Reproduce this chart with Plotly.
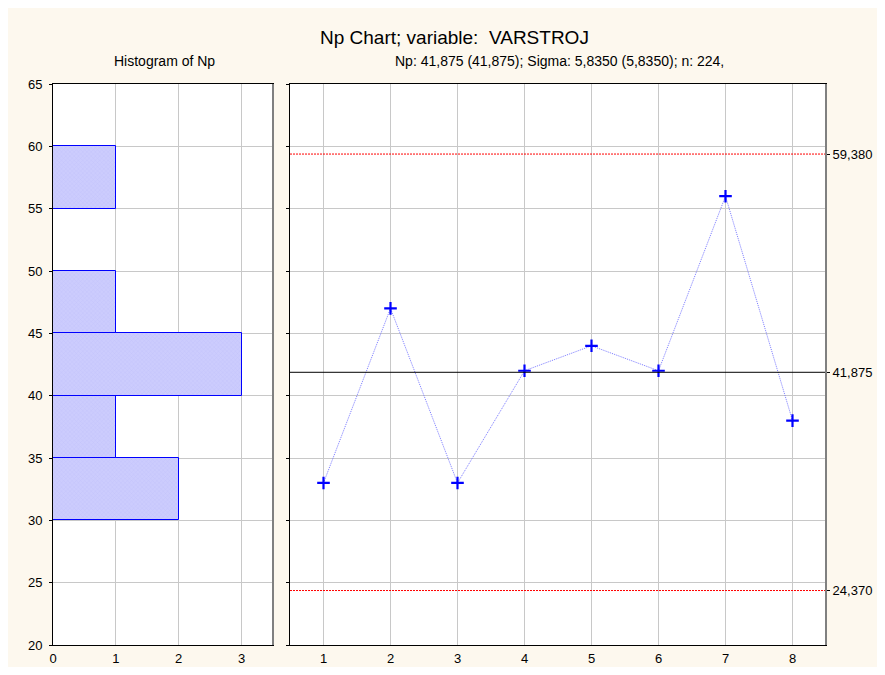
import plotly.graph_objects as go

# ---- data ----
samples = [1, 2, 3, 4, 5, 6, 7, 8]
np_values = [33, 47, 33, 42, 44, 42, 56, 38]
center_line = 41.875
ucl = 59.380
lcl = 24.370
hist_bin_centers = [32.5, 37.5, 42.5, 47.5, 52.5, 57.5]
hist_counts = [2, 1, 3, 1, 0, 1]
bin_width = 5
title_text = "Np Chart; variable:  VARSTROJ"
hist_title = "Histogram of Np"
stats_text = "Np: 41,875 (41,875); Sigma: 5,8350 (5,8350); n: 224,"
y_ticks = [20, 25, 30, 35, 40, 45, 50, 55, 60, 65]
hist_x_ticks = [0, 1, 2, 3]

def fmt(v):
    return f"{v:.3f}".replace(".", ",")

FONT = "Liberation Sans, Arial, sans-serif"
GRID = "#C8C8C8"

fig = go.Figure()

fig.add_trace(go.Bar(
    x=hist_counts, y=hist_bin_centers, width=bin_width, orientation="h",
    marker=dict(color="#C8C8FC", line=dict(color="#0000FF", width=1),
                pattern=dict(shape="x", fgcolor="#B4B4F6", bgcolor="#CCCCFD", size=3, solidity=0.2)),
    xaxis="x", yaxis="y", showlegend=False, hoverinfo="skip",
))

fig.add_trace(go.Scatter(
    x=samples, y=np_values, mode="lines+markers",
    line=dict(color="#7A7AFF", width=1, dash="1px,1px"),
    marker=dict(symbol="cross-thin", size=9, line=dict(color="#0000FF", width=2.2), color="#0000FF"),
    xaxis="x2", yaxis="y2", showlegend=False,
))

# invisible trace to activate right-side label axis
fig.add_trace(go.Scatter(x=[samples[0]], y=[center_line], mode="markers",
                         marker=dict(opacity=0), xaxis="x2", yaxis="y3",
                         showlegend=False, hoverinfo="skip"))

# control lines
fig.add_shape(type="line", xref="x2 domain", yref="y2", x0=0, x1=1, y0=ucl, y1=ucl,
              line=dict(color="#FF0000", width=1, dash="2px,1px"))
fig.add_shape(type="line", xref="x2 domain", yref="y2", x0=0, x1=1, y0=lcl, y1=lcl,
              line=dict(color="#FF0000", width=1, dash="2px,1px"))
fig.add_shape(type="line", xref="x2 domain", yref="y2", x0=0, x1=1, y0=center_line, y1=center_line,
              line=dict(color="#000000", width=1))

# gray right frame edges
for xr, yr_ in (("x domain", "y domain"), ("x2 domain", "y2 domain")):
    fig.add_shape(type="line", xref=xr, yref=yr_, x0=1, x1=1, y0=0, y1=1,
                  line=dict(color="#808080", width=2))

yr = [20, 65]
# page body has an 8px margin; figure placed at (8, 8)
OFF = 8
W, H = 885 - 2 * OFF, 675 - 2 * OFF
ml, mt = 53 - OFF, 84 - OFF
mr = W - (826 - OFF)
mb = H - (645 - OFF)
pw = W - ml - mr
ph = H - mt - mb
d1 = (273 - OFF - ml) / pw
d2 = (290 - OFF - ml) / pw

def px_x(page_x):
    return (page_x - OFF - ml) / pw

def px_y(page_y):
    return (H - mb - (page_y - OFF)) / ph

axis_common = dict(showline=True, linecolor="#000000", linewidth=1, mirror=True,
                   showgrid=True, gridcolor=GRID, gridwidth=1, zeroline=False, automargin=False,
                   tickfont=dict(family=FONT, size=13, color="#000000"))
y_axis_extra = dict(ticks="outside", ticklen=3, tickcolor="#000000", ticklabelstandoff=4)
x_axis_extra = dict(ticks="", ticklabelstandoff=1)

fig.update_layout(
    width=W, height=H,
    paper_bgcolor="#FDF8EE", plot_bgcolor="#FFFFFF",
    margin=dict(l=ml, r=mr, t=mt, b=mb, autoexpand=False),
    font=dict(family=FONT, color="#000000"),
    bargap=0,
    xaxis=dict(domain=[0, d1], range=[0, 3.5], tickvals=hist_x_ticks, anchor="y", **axis_common, **x_axis_extra),
    yaxis=dict(domain=[0, 1], range=yr, tickvals=y_ticks, anchor="x", **axis_common, **y_axis_extra),
    xaxis2=dict(domain=[d2, 1], range=[0.5, 8.5], tickvals=samples, anchor="y2", **axis_common, **x_axis_extra),
    yaxis2=dict(domain=[0, 1], range=yr, tickvals=y_ticks, showticklabels=False, anchor="x2",
                **axis_common, ticks="outside", ticklen=3, tickcolor="#000000"),
    yaxis3=dict(overlaying="y2", anchor="x2", side="right", range=yr,
                tickvals=[ucl, center_line, lcl], ticktext=[fmt(ucl), fmt(center_line), fmt(lcl)],
                showgrid=False, zeroline=False, showline=False, automargin=False,
                ticks="outside", ticklen=3, tickcolor="#000000",
                tickfont=dict(family=FONT, size=13, color="#000000")),
    annotations=[
        dict(text=title_text, xref="paper", yref="paper", x=px_x(454), y=px_y(38),
             xanchor="center", yanchor="middle", showarrow=False, font=dict(size=19, family=FONT)),
        dict(text=hist_title, xref="paper", yref="paper", x=px_x(164), y=px_y(61),
             xanchor="center", yanchor="middle", showarrow=False, font=dict(size=14, family=FONT)),
        dict(text=stats_text, xref="paper", yref="paper", x=px_x(559), y=px_y(61),
             xanchor="center", yanchor="middle", showarrow=False, font=dict(size=14, family=FONT)),
    ],
)

fig.write_html("out.html")
